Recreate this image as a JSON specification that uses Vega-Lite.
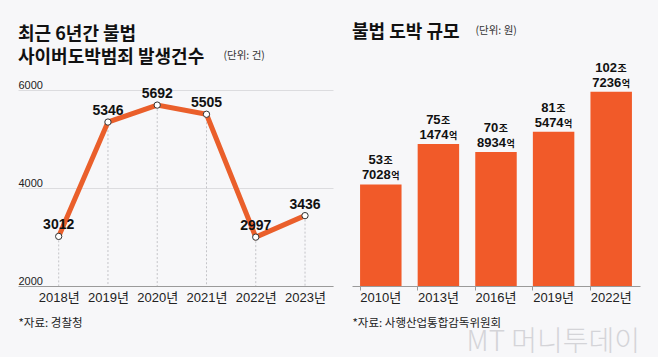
{
  "$schema": "https://vega.github.io/schema/vega-lite/v6.json",
  "background": "#f7f7f9",
  "padding": {"left": 18, "right": 18, "top": 24, "bottom": 0},
  "spacing": 19,
  "config": {
    "view": {"stroke": null},
    "font": "Liberation Sans, Noto Sans CJK KR, sans-serif"
  },
  "title": {
    "text": "MT 머니투데이",
    "orient": "bottom",
    "anchor": "end",
    "font": "Noto Sans CJK KR",
    "fontSize": 28,
    "fontWeight": 300,
    "color": "#d4d4d8",
    "offset": 0
  },
  "hconcat": [
    {
      "width": 315,
      "height": 196,
      "title": {
        "text": ["최근 6년간 불법", "사이버도박범죄 발생건수"],
        "anchor": "start",
        "font": "Noto Sans CJK KR",
        "fontSize": 18,
        "fontWeight": "bold",
        "lineHeight": 23,
        "color": "#111111",
        "offset": -17
      },
      "data": {
        "values": [
          {"year": 2018, "count": 3012},
          {"year": 2019, "count": 5346},
          {"year": 2020, "count": 5692},
          {"year": 2021, "count": 5505},
          {"year": 2022, "count": 2997},
          {"year": 2023, "count": 3436}
        ]
      },
      "encoding": {
        "x": {
          "field": "year",
          "type": "quantitative",
          "scale": {"domain": [2017.174, 2023.568], "nice": false, "zero": false},
          "axis": {
            "values": [2018, 2019, 2020, 2021, 2022, 2023],
            "labelExpr": "datum.value + '년'",
            "grid": false,
            "ticks": false,
            "tickSize": 0,
            "domainColor": "#9a9a9a",
            "labelFontSize": 13,
            "labelColor": "#222222",
            "labelPadding": 5,
            "title": "*자료: 경찰청",
            "titleX": 0,
            "titleY": 37,
            "titleAlign": "left",
            "titleAnchor": "start",
            "titleBaseline": "middle",
            "titleFont": "Noto Sans CJK KR",
            "titleFontSize": 11.5,
            "titleFontWeight": "normal",
            "titleColor": "#222222"
          }
        },
        "y": {
          "field": "count",
          "type": "quantitative",
          "scale": {"domain": [2000, 6000], "nice": false, "zero": false},
          "axis": {
            "values": [2000, 4000, 6000],
            "format": "d",
            "grid": true,
            "gridColor": "#dcdcdf",
            "domain": false,
            "ticks": false,
            "tickSize": 0,
            "labelAlign": "left",
            "labelBaseline": "bottom",
            "labelPadding": 0,
            "labelFontSize": 11,
            "labelColor": "#222222",
            "title": "(단위: 건)",
            "titleAngle": 0,
            "titleX": 205,
            "titleY": -35,
            "titleAlign": "left",
            "titleBaseline": "middle",
            "titleFont": "Noto Sans CJK KR",
            "titleFontSize": 10.5,
            "titleFontWeight": "normal",
            "titleColor": "#333333"
          }
        }
      },
      "layer": [
        {
          "mark": {"type": "rule", "color": "#c4c4c8", "strokeDash": [2, 2], "strokeWidth": 1},
          "encoding": {"y2": {"datum": 2000}}
        },
        {"mark": {"type": "line", "color": "#ea5f2b", "strokeWidth": 5}},
        {
          "mark": {"type": "point", "filled": true, "fill": "#ffffff", "stroke": "#333333", "strokeWidth": 1, "size": 40, "opacity": 1}
        },
        {
          "mark": {"type": "text", "dy": -7, "baseline": "alphabetic", "fontSize": 14, "fontWeight": "bold", "color": "#111111"},
          "encoding": {"text": {"field": "count", "type": "quantitative", "format": "d"}}
        }
      ]
    },
    {
      "width": 288,
      "height": 196,
      "title": {
        "text": "불법 도박 규모",
        "anchor": "start",
        "font": "Noto Sans CJK KR",
        "fontSize": 18,
        "fontWeight": "bold",
        "color": "#111111",
        "offset": -17
      },
      "data": {
        "values": [
          {"year": "2010년", "amount": 53.7028, "jo": "53", "eok": "7028"},
          {"year": "2013년", "amount": 75.1474, "jo": "75", "eok": "1474"},
          {"year": "2016년", "amount": 70.8934, "jo": "70", "eok": "8934"},
          {"year": "2019년", "amount": 81.5474, "jo": "81", "eok": "5474"},
          {"year": "2022년", "amount": 102.7236, "jo": "102", "eok": "7236"}
        ]
      },
      "encoding": {
        "x": {
          "field": "year",
          "type": "nominal",
          "sort": null,
          "scale": {"paddingInner": 0.28, "paddingOuter": 0.14},
          "axis": {
            "labelAngle": 0,
            "bandPosition": 0,
            "ticks": true,
            "tickSize": 4,
            "tickColor": "#9a9a9a",
            "domainColor": "#9a9a9a",
            "labelFontSize": 13,
            "labelColor": "#222222",
            "labelPadding": 1,
            "title": "*자료: 사행산업통합감독위원회",
            "titleX": 0,
            "titleY": 37,
            "titleAlign": "left",
            "titleAnchor": "start",
            "titleBaseline": "middle",
            "titleFont": "Noto Sans CJK KR",
            "titleFontSize": 11.5,
            "titleFontWeight": "normal",
            "titleColor": "#222222"
          }
        },
        "y": {
          "field": "amount",
          "type": "quantitative",
          "scale": {"domain": [0, 103.7], "nice": false},
          "axis": {
            "labels": false,
            "ticks": false,
            "domain": false,
            "grid": false,
            "title": "(단위: 원)",
            "titleAngle": 0,
            "titleX": 123,
            "titleY": -60,
            "titleAlign": "left",
            "titleBaseline": "middle",
            "titleFont": "Noto Sans CJK KR",
            "titleFontSize": 10.5,
            "titleFontWeight": "normal",
            "titleColor": "#333333"
          }
        }
      },
      "layer": [
        {"mark": {"type": "bar", "color": "#f15a29"}},
        {
          "mark": {"type": "text", "align": "right", "baseline": "alphabetic", "dy": -20, "dx": {"expr": "length(datum.jo) * 3.6 - 5"}, "fontSize": 13, "fontWeight": "bold", "color": "#111111"},
          "encoding": {"text": {"field": "jo"}}
        },
        {
          "mark": {"type": "text", "align": "left", "baseline": "alphabetic", "dy": -20, "dx": {"expr": "length(datum.jo) * 3.6 - 4.5"}, "font": "Noto Sans CJK KR", "fontSize": 10, "fontWeight": "bold", "color": "#111111"},
          "encoding": {"text": {"value": "조"}}
        },
        {
          "mark": {"type": "text", "align": "right", "baseline": "alphabetic", "dy": -5, "dx": 10, "fontSize": 13, "fontWeight": "bold", "color": "#111111"},
          "encoding": {"text": {"field": "eok"}}
        },
        {
          "mark": {"type": "text", "align": "left", "baseline": "alphabetic", "dy": -5, "dx": 10.5, "font": "Noto Sans CJK KR", "fontSize": 9, "fontWeight": "bold", "color": "#111111"},
          "encoding": {"text": {"value": "억"}}
        }
      ]
    }
  ]
}
